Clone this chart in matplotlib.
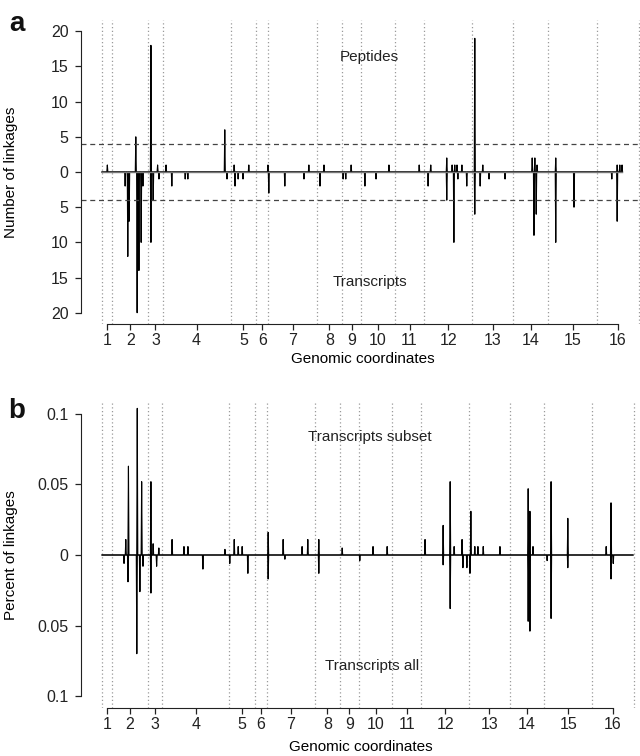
import numpy as np
import matplotlib
matplotlib.use('Agg')
import matplotlib.pyplot as plt

plt.rcParams['font.family'] = ['Liberation Sans', 'DejaVu Sans']
plt.rcParams['text.color'] = '#222222'
plt.rcParams['xtick.color'] = '#222222'
plt.rcParams['ytick.color'] = '#222222'

# yeast chromosome lengths (Mb)
chrom_len = [0.230, 0.813, 0.317, 1.532, 0.577, 0.270, 1.091, 0.563,
             0.440, 0.746, 0.667, 1.078, 0.924, 0.784, 1.091, 0.948]
chrom_lab = [str(i) for i in range(1, 17)]

# panel a: peptides (number of linkages, up)
pep_pos = [0.12, 0.76, 1.10, 1.25, 1.44, 2.76, 2.97, 3.30, 3.73, 4.65, 4.99,
           5.60, 6.45, 7.13, 7.39, 7.75, 7.87, 7.93, 7.98, 8.09, 8.38, 8.56,
           9.67, 9.73, 9.78, 10.20, 11.58, 11.64, 11.69]
pep_val = [1, 5, 18, 1, 1, 6, 1, 1, 1, 1, 1,
           1, 1, 1, 1, 2, 1, 1, 1, 1, 19, 1,
           2, 2, 1, 2, 1, 1, 1]

# panel a: transcripts (number of linkages, down)
tr_pos = [0.52, 0.58, 0.61, 0.79, 0.83, 0.88, 0.92, 1.10, 1.15, 1.28, 1.57,
          1.87, 1.93, 2.81, 2.99, 3.06, 3.17, 3.75, 4.11, 4.54, 4.90, 5.42,
          5.48, 5.91, 6.16, 7.33, 7.75, 7.91, 8.00, 8.20, 8.38, 8.50, 8.70,
          9.06, 9.71, 9.76, 10.20, 10.61, 11.46, 11.58]
tr_val = [2, 12, 7, 20, 14, 10, 2, 10, 4, 1, 2,
          1, 1, 1, 2, 1, 1, 3, 2, 1, 2, 1,
          1, 2, 1, 2, 4, 10, 1, 2, 6, 2, 1,
          1, 9, 6, 10, 5, 1, 7]

# panel b: transcripts subset (percent, up)
sub_pos = [0.54, 0.60, 0.80, 0.90, 1.11, 1.16, 1.29, 1.59, 1.86, 1.95, 2.79,
           3.00, 3.09, 3.18, 3.77, 4.11, 4.54, 4.67, 4.92, 5.45, 6.15, 6.47,
           7.33, 7.74, 7.90, 7.99, 8.17, 8.37, 8.46, 8.53, 8.65, 9.03, 9.67,
           9.71, 9.78, 10.19, 10.57, 11.44, 11.55]
sub_val = [0.011, 0.063, 0.104, 0.052, 0.052, 0.008, 0.005, 0.011, 0.006, 0.006, 0.004,
           0.011, 0.006, 0.006, 0.016, 0.011, 0.006, 0.011, 0.011, 0.005, 0.006, 0.006,
           0.011, 0.021, 0.052, 0.006, 0.011, 0.031, 0.006, 0.006, 0.006, 0.006, 0.047,
           0.031, 0.006, 0.052, 0.026, 0.006, 0.037]

# panel b: transcripts all (percent, down)
all_pos = [0.50, 0.59, 0.79, 0.86, 0.93, 1.11, 1.24, 2.29, 2.90, 3.31, 3.77,
           4.15, 4.92, 5.85, 7.74, 7.90, 8.19, 8.28, 8.35, 9.67, 9.71, 10.10,
           10.19, 10.57, 11.55, 11.60]
all_val = [0.006, 0.019, 0.070, 0.026, 0.008, 0.027, 0.008, 0.010, 0.006, 0.013, 0.017,
           0.003, 0.013, 0.004, 0.007, 0.038, 0.009, 0.009, 0.013, 0.047, 0.054, 0.004,
           0.045, 0.009, 0.017, 0.006]


def spikes(pos, val, sign, end, w=0.012):
    x, y = [0.0], [0.0]
    for p, v in sorted(zip(pos, val)):
        x += [p - w, p, p + w]
        y += [0, sign * v, 0]
    x.append(end)
    y.append(0)
    return x, y


bounds = np.concatenate([[0], np.cumsum(chrom_len)])
mids = (bounds[:-1] + bounds[1:]) / 2

fig = plt.figure(figsize=(6.4, 7.56), dpi=100)
W, H = 640, 756


def setup(ax, ylim, yticks, ylabels, ylabel, xlabel_y):
    for b in bounds:
        ax.axvline(b, color='#9a9a9a', ls=(0, (1, 2)), lw=0.9, zorder=0)
    ax.set_ylim(-ylim, ylim)
    ax.spines['top'].set_visible(False)
    ax.spines['right'].set_visible(False)
    ax.spines['left'].set_bounds(yticks[0], yticks[-1])
    ax.spines['bottom'].set_bounds(mids[0], mids[-1])
    ax.spines['left'].set_color('#222222')
    ax.spines['bottom'].set_color('#222222')
    ax.set_yticks(yticks)
    ax.set_yticklabels(ylabels)
    ax.set_xticks(mids)
    ax.set_xticklabels(chrom_lab)
    ax.tick_params(length=4, width=0.9, labelsize=11.5, pad=5)
    ax.tick_params(axis='x', pad=2.5)
    ax.set_xlabel('Genomic coordinates', fontsize=11, va='center')
    ax.xaxis.set_label_coords(0.487, xlabel_y)
    ax.set_ylabel(ylabel, fontsize=11)
    ax.yaxis.set_label_coords(-0.109, 0.5)


# ---- panel a
ax1 = fig.add_axes([81 / W, 1 - 324 / H, 579 / W, 304 / H])
ax1.set_xlim(-0.472, 12.543)
x, y = spikes(tr_pos, tr_val, -1, 11.69)
ax1.plot(x, y, color='black', lw=0.8)
x, y = spikes(pep_pos, pep_val, 1, 11.69)
ax1.plot(x, y, color='black', lw=0.8)
ax1.plot([0, 11.69], [0, 0], color='#777777', lw=1.0)
ax1.axhline(4, color='#444444', ls=(0, (4, 3)), lw=0.9)
ax1.axhline(-4, color='#444444', ls=(0, (4, 3)), lw=0.9)
yt = np.arange(-20, 21, 5)
setup(ax1, 21.6, yt, [str(abs(v)) for v in yt], 'Number of linkages', -0.115)
ax1.text(6.02, 16.3, 'Peptides', ha='center', va='center', fontsize=11)
ax1.text(6.02, -15.6, 'Transcripts', ha='center', va='center', fontsize=11)

# ---- panel b
ax2 = fig.add_axes([81 / W, 1 - 708 / H, 574 / W, 306 / H])
ax2.set_xlim(-0.4765, 12.548)
x, y = spikes(all_pos, all_val, -1, 12.05)
ax2.plot(x, y, color='black', lw=0.8)
x, y = spikes(sub_pos, sub_val, 1, 12.05)
ax2.plot(x, y, color='black', lw=0.8)
yt2 = [-0.1, -0.05, 0, 0.05, 0.1]
setup(ax2, 0.1085, yt2, ['0.1', '0.05', '0', '0.05', '0.1'],
      'Percent of linkages', -0.127)
ax2.text(6.08, 0.084, 'Transcripts subset', ha='center', va='center', fontsize=11)
ax2.text(6.13, -0.079, 'Transcripts all', ha='center', va='center', fontsize=11)

# panel letters
fig.text(17 / W, 1 - 24 / H, 'a', fontsize=20, fontweight='bold',
         ha='center', va='center', color='#111111')
fig.text(17 / W, 1 - 411 / H, 'b', fontsize=20, fontweight='bold',
         ha='center', va='center', color='#111111')

fig.savefig('out.png', dpi=100)
